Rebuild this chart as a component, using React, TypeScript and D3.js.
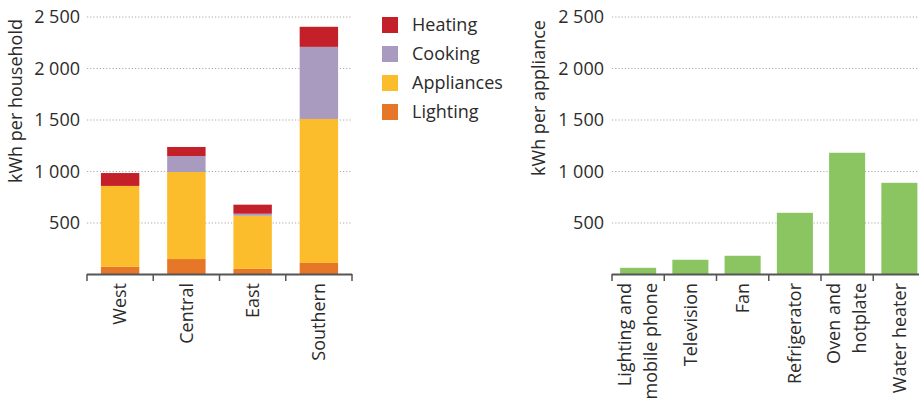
import React from "react";
import * as d3 from "d3";

const regions = ["West", "Central", "East", "Southern"];
const lighting = [75, 150, 55, 112];
const appliances = [785, 845, 515, 1398];
const cooking = [0, 155, 20, 700];
const heating = [125, 88, 88, 195];
const seriesNames = ["Lighting", "Appliances", "Cooking", "Heating"];
const seriesColors = ["#e67628", "#fbbd2b", "#a99bbf", "#c4202a"];

const applianceLabels = [
  ["Lighting and", "mobile phone"],
  ["Television"],
  ["Fan"],
  ["Refrigerator"],
  ["Oven and", "hotplate"],
  ["Water heater"],
];
const applianceValues = [65, 143, 182, 599, 1182, 890];

const yTicks = [500, 1000, 1500, 2000, 2500];

const FONT = "'Open Sans', 'Noto Sans', sans-serif";
const TEXT = "#2b2b2b";
const FS = 18;

function fmt(v: number) {
  return d3.format(",")(v).replace(/,/g, " ");
}

export default function App() {
  const y = d3.scaleLinear().domain([0, 2500]).range([274.5, 17]);

  // Left chart
  const xL = d3.scaleBand<string>().domain(regions).range([87, 352]).paddingInner(0.42).paddingOuter(0.21);
  const table = regions.map((r, i) => ({
    region: r,
    Lighting: lighting[i],
    Appliances: appliances[i],
    Cooking: cooking[i],
    Heating: heating[i],
  }));
  const stacked = d3.stack<any>().keys(seriesNames)(table);
  const stepL = xL.step();

  // Right chart
  const appKeys = applianceLabels.map((l) => l.join(" "));
  const xR = d3.scaleBand<string>().domain(appKeys).range([612, 925.5]).paddingInner(0.31).paddingOuter(0.155);
  const stepR = xR.step();

  const legendOrder = [3, 2, 1, 0];

  return (
    <svg width={919} height={405} style={{ position: "absolute", left: 0, top: 0, background: "#fff" }} fontFamily={FONT}>
      {/* Left gridlines */}
      {yTicks.map((t) => (
        <line key={"gl" + t} x1={87} x2={352} y1={y(t)} y2={y(t)} stroke="#aaa" strokeWidth={1.2} strokeDasharray="1.2,2" />
      ))}
      {yTicks.map((t) => (
        <text key={"tl" + t} x={80} y={y(t)} dy="0.35em" textAnchor="end" fontSize={FS} fill={TEXT}>
          {fmt(t)}
        </text>
      ))}
      <text transform={`translate(22,101) rotate(-90)`} textAnchor="middle" fontSize={FS} fill={TEXT}>
        kWh per household
      </text>
      {stacked.map((s, si) => (
        <g key={s.key} fill={seriesColors[si]}>
          {s.map((d, i) => (
            <rect key={i} x={xL(regions[i])} width={xL.bandwidth()} y={y(d[1])} height={Math.max(0, y(d[0]) - y(d[1]))} />
          ))}
        </g>
      ))}
      <line x1={87} x2={352} y1={274.5} y2={274.5} stroke="#555" strokeWidth={2} />
      {d3.range(regions.length + 1).map((i) => {
        const xx = 87 + i * stepL;
        return <line key={"tk" + i} x1={Math.min(xx, 352)} x2={Math.min(xx, 352)} y1={274} y2={281} stroke="#555" strokeWidth={1.5} />;
      })}
      {regions.map((r) => (
        <text key={r} transform={`translate(${(xL(r) as number) + xL.bandwidth() / 2},283) rotate(-90)`} textAnchor="end" dy="0.35em" fontSize={FS} fill={TEXT}>
          {r}
        </text>
      ))}
      {/* Legend */}
      {legendOrder.map((si, k) => (
        <g key={"lg" + si} transform={`translate(382,${17 + k * 29})`}>
          <rect width={16} height={16} fill={seriesColors[si]} />
          <text x={30} y={8} dy="0.35em" fontSize={FS} fill={TEXT}>
            {seriesNames[si]}
          </text>
        </g>
      ))}

      {/* Right chart */}
      {yTicks.map((t) => (
        <line key={"gr" + t} x1={612} x2={919} y1={y(t)} y2={y(t)} stroke="#aaa" strokeWidth={1.2} strokeDasharray="1.2,2" />
      ))}
      {yTicks.map((t) => (
        <text key={"tr" + t} x={604} y={y(t)} dy="0.35em" textAnchor="end" fontSize={FS} fill={TEXT}>
          {fmt(t)}
        </text>
      ))}
      <text transform={`translate(545,98) rotate(-90)`} textAnchor="middle" fontSize={FS} fill={TEXT}>
        kWh per appliance
      </text>
      {appKeys.map((k, i) => (
        <rect key={k} x={xR(k)} width={xR.bandwidth()} y={y(applianceValues[i])} height={y(0) - y(applianceValues[i])} fill="#8bc562" />
      ))}
      <line x1={612} x2={919} y1={274.5} y2={274.5} stroke="#555" strokeWidth={2} />
      {d3.range(appKeys.length + 1).map((i) => {
        const xx = 612 + i * stepR;
        return <line key={"trk" + i} x1={xx} x2={xx} y1={274} y2={281} stroke="#555" strokeWidth={1.5} />;
      })}
      {appKeys.map((k, i) => {
        const cx = (xR(k) as number) + xR.bandwidth() / 2;
        const lines = applianceLabels[i];
        return (
          <text key={"lab" + k} transform={`translate(${cx},283) rotate(-90)`} textAnchor="end" fontSize={FS} fill={TEXT}>
            {lines.map((ln, j) => (
              <tspan key={j} x={0} y={(j - (lines.length - 1) / 2) * 26} dy="0.35em">
                {ln}
              </tspan>
            ))}
          </text>
        );
      })}
    </svg>
  );
}
